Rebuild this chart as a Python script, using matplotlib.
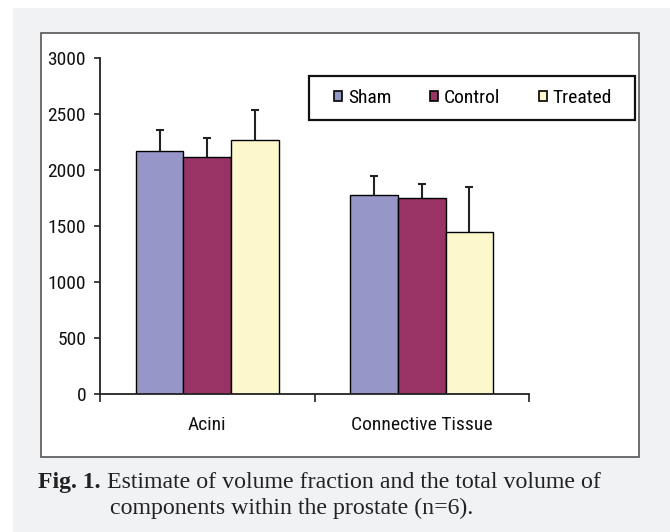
import matplotlib
matplotlib.use("Agg")
import matplotlib.pyplot as plt
import numpy as np
from matplotlib.patches import Rectangle, Patch

categories = ["Acini", "Connective Tissue"]
series = ["Sham", "Control", "Treated"]
sham = [2171, 1774]
control = [2114, 1747]
treated = [2272, 1446]
sham_err = [187, 170]
control_err = [173, 125]
treated_err = [268, 399]
yticks = [0, 500, 1000, 1500, 2000, 2500, 3000]

colors = ["#9696c9", "#993366", "#fcf8cc"]
sans = ["Liberation Sans Narrow", "Roboto Condensed", "Open Sans Condensed", "Liberation Sans", "DejaVu Sans"]
serif = ["Liberation Serif", "DejaVu Serif"]

W, H = 670, 532
fig = plt.figure(figsize=(W / 100, H / 100), dpi=100)
fig.patch.set_facecolor("white")

def fx(px):
    return px / W

def fy(py):
    return 1 - py / H

# gray background panel
fig.add_artist(Rectangle((fx(13), 0), 1 - fx(13), fy(8), transform=fig.transFigure,
                         facecolor="#f1f2f4", edgecolor="none", zorder=0))
# white chart box
fig.add_artist(Rectangle((fx(40.7), fy(456.5)), fx(639.3) - fx(40.7), fy(32.7) - fy(456.5),
                         transform=fig.transFigure, facecolor="white",
                         edgecolor="#555555", linewidth=1.2, zorder=0.5))

ax = fig.add_axes([fx(100), fy(394), fx(529) - fx(100), fy(58) - fy(394)])
ax.set_facecolor("none")
ax.set_zorder(1)

x = np.arange(len(categories))
bw = 0.2215
vals = [sham, control, treated]
errs = [sham_err, control_err, treated_err]
for i, (v, e) in enumerate(zip(vals, errs)):
    pos = x + (i - 1) * bw
    ax.bar(pos, v, width=bw, color=colors[i], edgecolor="black", linewidth=1.0,
           label=series[i], zorder=2)
    eb = ax.errorbar(pos, v, yerr=[np.zeros(len(e)), e], fmt="none", ecolor="#222222",
                     elinewidth=1.5, capsize=3, capthick=1.5, zorder=1)
    caps = eb[1]
    if len(caps) == 2:
        caps[0].set_visible(False)

ax.set_xlim(-0.5, 1.5)
ax.set_ylim(0, 3000)
ax.set_yticks(yticks)
ax.set_yticklabels([str(t) for t in yticks], fontsize=14, family=sans, color="#111111")
ax.tick_params(axis="y", direction="out", length=4, width=1.2, pad=6, color="#222222")

ax.set_xticks([-0.5, 0.5, 1.5])
ax.set_xticklabels([])
ax.tick_params(axis="x", which="major", direction="out", length=6, width=1.2, color="#222222")
ax.set_xticks(x, minor=True)
ax.set_xticklabels(categories, minor=True, fontsize=14, family=sans, color="#111111")
ax.tick_params(axis="x", which="minor", length=0, pad=16)

for s in ["top", "right"]:
    ax.spines[s].set_visible(False)
for s in ["left", "bottom"]:
    ax.spines[s].set_linewidth(1.3)
    ax.spines[s].set_color("#222222")

# legend frame
fig.add_artist(Rectangle((fx(309), fy(120)), fx(635) - fx(309), fy(76) - fy(120),
                         transform=fig.transFigure, facecolor="white",
                         edgecolor="#111111", linewidth=1.6, zorder=3))
handles = [Patch(facecolor=c, edgecolor="black", linewidth=1.2) for c in colors]
leg = fig.legend(handles, series, loc="center", mode="expand", ncol=3,
                 bbox_to_anchor=(fx(334), fy(120), fx(612) - fx(334), fy(76) - fy(120)),
                 bbox_transform=fig.transFigure, borderaxespad=0, borderpad=0,
                 prop={"family": sans, "size": 14}, handlelength=0.42, handleheight=0.42,
                 handletextpad=0.3, frameon=False)
leg.set_zorder(4)

fig.text(fx(38), fy(488.3), "Fig. 1.", fontsize=17, fontweight="bold", family=serif,
         va="baseline", ha="left", color="#222222")
fig.text(fx(107.3), fy(488.3), "Estimate of volume fraction and the total volume of",
         fontsize=17.2, family=serif, va="baseline", ha="left", color="#222222")
fig.text(fx(110), fy(514.3), "components within the prostate (n=6).",
         fontsize=17.2, family=serif, va="baseline", ha="left", color="#222222")

fig.savefig("out.png", dpi=100)
